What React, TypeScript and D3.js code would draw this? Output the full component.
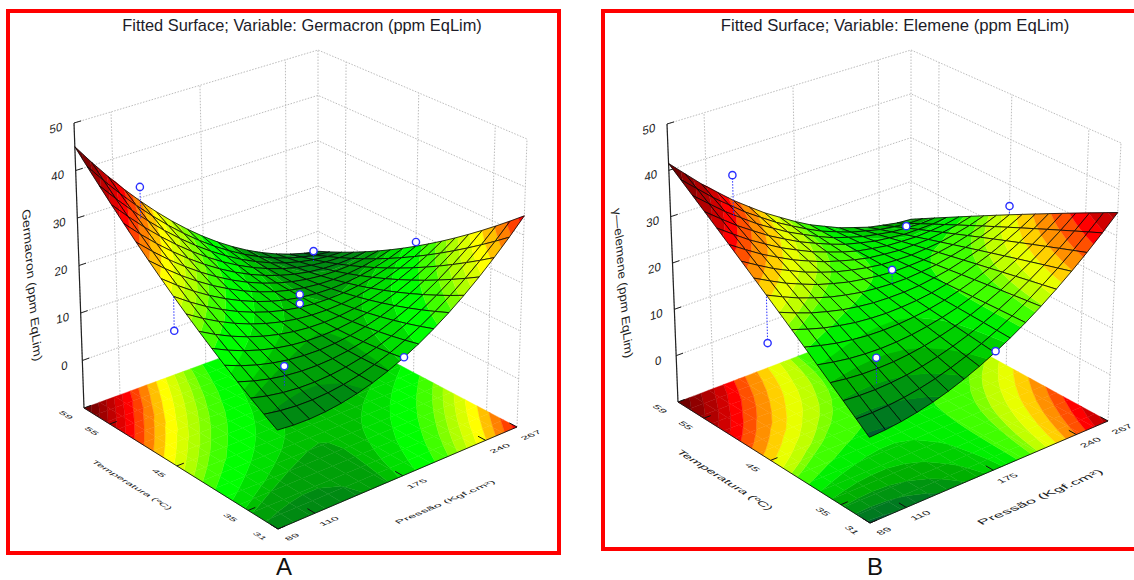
import * as d3 from 'd3';
import React, { useEffect, useRef } from 'react';

// values
const pressureTicks = [89, 110, 175, 240, 267];
const pressureStops = [0, 0.145, 0.503, 0.86, 1]; // where the ticks fall along the axis
const temperatureTicks = [59, 55, 45, 35, 31];
const zTicks = [0, 10, 20, 30, 40, 50];

// rows run from T=31 to T=59, columns from P=89 to P=267
const germacronGrid = [
  [9.40, 9.11, 9.06, 9.26, 9.70, 10.39, 11.31, 12.48, 13.90, 15.56, 17.47, 19.61, 22.00, 24.64, 27.52, 30.63, 34.00],
  [10.99, 10.45, 10.15, 10.10, 10.29, 10.73, 11.40, 12.32, 13.49, 14.90, 16.56, 18.45, 20.59, 22.98, 25.61, 28.47, 31.59],
  [12.67, 11.88, 11.33, 11.03, 10.97, 11.16, 11.58, 12.25, 13.17, 14.33, 15.74, 17.38, 19.27, 21.41, 23.79, 26.40, 29.27],
  [14.43, 13.39, 12.59, 12.04, 11.73, 11.67, 11.84, 12.26, 12.93, 13.84, 15.00, 16.39, 18.03, 19.92, 22.05, 24.41, 27.03],
  [16.27, 14.98, 13.93, 13.13, 12.57, 12.26, 12.18, 12.35, 12.77, 13.43, 14.34, 15.48, 16.87, 18.51, 20.39, 22.50, 24.87],
  [18.20, 16.66, 15.36, 14.31, 13.50, 12.94, 12.61, 12.53, 12.70, 13.11, 13.77, 14.66, 15.80, 17.19, 18.82, 20.68, 22.80],
  [20.21, 18.42, 16.87, 15.57, 14.51, 13.70, 13.12, 12.79, 12.71, 12.87, 13.28, 13.92, 14.81, 15.95, 17.33, 18.94, 20.81],
  [22.31, 20.27, 18.47, 16.92, 15.61, 14.55, 13.72, 13.14, 12.81, 12.72, 12.88, 13.27, 13.91, 14.80, 15.93, 17.29, 18.91],
  [24.49, 22.20, 20.15, 18.35, 16.79, 15.48, 14.40, 13.57, 12.99, 12.65, 12.56, 12.70, 13.09, 13.73, 14.61, 15.72, 17.09],
  [26.76, 24.22, 21.92, 19.87, 18.06, 16.50, 15.17, 14.09, 13.26, 12.67, 12.33, 12.22, 12.36, 12.75, 13.38, 14.24, 15.36],
  [29.11, 26.32, 23.77, 21.47, 19.41, 17.60, 16.02, 14.69, 13.61, 12.77, 12.18, 11.82, 11.71, 11.85, 12.23, 12.84, 13.71],
  [31.55, 28.51, 25.71, 23.16, 20.85, 18.79, 16.96, 15.38, 14.05, 12.96, 12.12, 11.51, 11.15, 11.04, 11.17, 11.53, 12.15],
  [34.07, 30.78, 27.73, 24.93, 22.37, 20.06, 17.98, 16.15, 14.57, 13.23, 12.14, 11.28, 10.67, 10.31, 10.19, 10.30, 10.67],
  [36.68, 33.14, 29.84, 26.79, 23.98, 21.42, 19.09, 17.01, 15.18, 13.59, 12.25, 11.14, 10.28, 9.67, 9.30, 9.16, 9.28],
  [39.37, 35.58, 32.03, 28.73, 25.67, 22.86, 20.28, 17.95, 15.87, 14.03, 12.44, 11.08, 9.97, 9.11, 8.49, 8.10, 7.97],
  [42.14, 38.10, 34.30, 30.75, 27.44, 24.38, 21.55, 18.97, 16.64, 14.55, 12.71, 11.10, 9.74, 8.63, 7.76, 7.12, 6.74],
  [45.00, 40.71, 36.66, 32.86, 29.30, 25.99, 22.91, 20.08, 17.50, 15.16, 13.07, 11.21, 9.60, 8.24, 7.12, 6.23, 5.60],
];

const elemeneGrid = [
  [7.50, 7.70, 8.10, 8.70, 9.50, 10.50, 11.72, 13.13, 14.75, 16.57, 18.60, 20.82, 23.26, 25.88, 28.72, 31.76, 35.00],
  [9.66, 9.64, 9.81, 10.19, 10.76, 11.54, 12.53, 13.72, 15.11, 16.70, 18.51, 20.50, 22.72, 25.11, 27.73, 30.54, 33.56],
  [11.82, 11.58, 11.52, 11.68, 12.02, 12.58, 13.34, 14.31, 15.47, 16.83, 18.42, 20.18, 22.18, 24.34, 26.74, 29.32, 32.12],
  [13.97, 13.51, 13.22, 13.16, 13.27, 13.61, 14.14, 14.89, 15.82, 16.95, 18.32, 19.85, 21.63, 23.56, 25.74, 28.09, 30.67],
  [16.12, 15.44, 14.92, 14.64, 14.52, 14.64, 14.94, 15.47, 16.17, 17.07, 18.22, 19.52, 21.08, 22.78, 24.74, 26.86, 29.22],
  [18.26, 17.36, 16.61, 16.11, 15.76, 15.66, 15.73, 16.04, 16.51, 17.18, 18.11, 19.18, 20.52, 21.99, 23.73, 25.62, 27.76],
  [20.40, 19.28, 18.30, 17.58, 17.00, 16.68, 16.52, 16.61, 16.85, 17.29, 18.00, 18.84, 19.96, 21.20, 22.72, 24.38, 26.30],
  [22.53, 21.19, 19.98, 19.04, 18.23, 17.69, 17.30, 17.17, 17.18, 17.39, 17.88, 18.49, 19.39, 20.40, 21.70, 23.13, 24.83],
  [24.66, 23.10, 21.66, 20.50, 19.46, 18.70, 18.08, 17.73, 17.51, 17.49, 17.76, 18.14, 18.82, 19.60, 20.68, 21.88, 23.36],
  [26.78, 25.00, 23.33, 21.95, 20.68, 19.70, 18.85, 18.28, 17.83, 17.58, 17.63, 17.78, 18.24, 18.79, 19.65, 20.62, 21.88],
  [28.89, 26.89, 24.99, 23.39, 21.89, 20.69, 19.61, 18.82, 18.14, 17.66, 17.49, 17.41, 17.65, 17.97, 18.61, 19.35, 20.39],
  [31.00, 28.78, 26.65, 24.83, 23.10, 21.68, 20.37, 19.36, 18.45, 17.74, 17.35, 17.04, 17.06, 17.15, 17.57, 18.08, 18.90],
  [33.10, 30.66, 28.30, 26.26, 24.30, 22.66, 21.12, 19.89, 18.75, 17.81, 17.20, 16.66, 16.46, 16.32, 16.52, 16.80, 17.40],
  [35.20, 32.54, 29.95, 27.69, 25.50, 23.64, 21.87, 20.42, 19.05, 17.88, 17.05, 16.28, 15.86, 15.49, 15.47, 15.52, 15.90],
  [37.30, 34.42, 31.60, 29.12, 26.70, 24.62, 22.62, 20.95, 19.35, 17.95, 16.90, 15.90, 15.26, 14.66, 14.42, 14.24, 14.40],
  [39.39, 36.29, 33.24, 30.54, 27.89, 25.59, 23.36, 21.47, 19.64, 18.01, 16.74, 15.51, 14.65, 13.82, 13.36, 12.95, 12.89],
  [41.48, 38.16, 34.88, 31.96, 29.08, 26.56, 24.10, 21.99, 19.93, 18.07, 16.58, 15.12, 14.04, 12.98, 12.30, 11.66, 11.38],
];

// observed runs
const germacronP = [110, 89, 240, 175, 175, 110, 175, 267];
const germacronT = [55, 45, 55, 45, 45, 35, 31, 45];
const germacronZ = [37, 17.5, 11, 15.7, 13.8, 15.8, 14, 18];

const elemeneP = [110, 89, 240, 175, 110, 175, 267];
const elemeneT = [55, 45, 55, 45, 35, 31, 45];
const elemeneZ = [39.5, 14.6, 15.5, 20.5, 17.3, 15, 25.3];

// contour levels, low to high
const germacronLevels = [-100, 8, 10.8, 12.6, 13.6, 15.4, 18, 20, 21.5, 23.2, 25, 27, 29, 31, 33, 35, 37, 39, 41, 43, 100];
const germacronColors = ['#006e18', '#008a12', '#00a008', '#00c000', '#00df00', '#00ff00', '#40ff00', '#80ff00', '#b0ff00', '#d8ff00', '#ffff00', '#ffc000', '#ff8000', '#ff4000', '#ff0000', '#e00000', '#c00000', '#a00000', '#800000', '#700000'];

const elemeneLevels = [-100, 8, 10, 12, 14, 16, 18, 20, 21, 22.5, 24.2, 26, 28, 30, 32, 34, 36.5, 39, 100];
const elemeneColors = ['#006030', '#007a20', '#009510', '#00b000', '#00d000', '#00f000', '#40ff00', '#80ff00', '#c0ff00', '#e8ff00', '#ffd000', '#ff9000', '#ff5000', '#ff0000', '#d00000', '#b00000', '#900000', '#700000'];

const Z_FLOOR = -10;
const FONT = '"Liberation Sans", Arial, sans-serif';

const panels = [
  {
    title: 'Fitted Surface; Variable: Germacron (ppm EqLim)',
    zLabel: 'Germacron (ppm EqLim)',
    letter: 'A',
    grid: germacronGrid,
    pointsP: germacronP,
    pointsT: germacronT,
    pointsZ: germacronZ,
    levels: germacronLevels,
    colors: germacronColors,
    frame: [8, 11, 551, 542],
    titleAt: [302, 31],
    titleSize: 16.4,
    letterAt: [284, 575],
    // front, right, back, left corners of the floor and of the z=50 plane
    floor: [[278, 529], [517, 427], [318, 322], [84, 408]],
    top: [[276, 223], [527, 139], [318, 50], [74, 123]],
    tempLabel: { at: [132, 485], s: 1.0, h: 0.6 },
    pressLabel: { at: [445, 502], s: 1.1, h: 0.62 },
    zLabelAt: [32, 285],
    zLabelScale: 1.15,
    tickScale: { s: 1, h: 0.6 },
  },
  {
    title: 'Fitted Surface; Variable: Elemene (ppm EqLim)',
    zLabel: 'γ—elemene (ppm EqLim)',
    letter: 'B',
    grid: elemeneGrid,
    pointsP: elemeneP,
    pointsT: elemeneT,
    pointsZ: elemeneZ,
    levels: elemeneLevels,
    colors: elemeneColors,
    frame: [603, 11, 560, 538],
    titleAt: [895, 31],
    titleSize: 16.7,
    letterAt: [875, 575],
    floor: [[870, 523], [1108, 421], [911, 313], [678, 402]],
    top: [[868, 229], [1121, 143], [911, 50], [667, 124]],
    tempLabel: { at: [725, 480], s: 1.2, h: 0.8 },
    pressLabel: { at: [1040, 497], s: 1.38, h: 0.85 },
    zLabelAt: [623, 283],
    zLabelScale: 1.1,
    tickScale: { s: 1, h: 0.7 },
  },
];

// unit square to quad, (0,0) front, (1,0) right, (1,1) back, (0,1) left
function homography(q: number[][]) {
  const [[x0, y0], [x1, y1], [x2, y2], [x3, y3]] = q;
  const dx1 = x1 - x2, dx2 = x3 - x2, sx = x0 - x1 + x2 - x3;
  const dy1 = y1 - y2, dy2 = y3 - y2, sy = y0 - y1 + y2 - y3;
  const den = dx1 * dy2 - dx2 * dy1;
  const g = (sx * dy2 - dx2 * sy) / den;
  const h = (dx1 * sy - sx * dy1) / den;
  const a = x1 - x0 + g * x1, b = x3 - x0 + h * x3;
  const d = y1 - y0 + g * y1, e = y3 - y0 + h * y3;
  return (u: number, v: number) => {
    const w = g * u + h * v + 1;
    return [(a * u + b * v + x0) / w, (d * u + e * v + y0) / w];
  };
}

// keep the part of a cell polygon on one side of a level
function clipLevel(pts: any[], level: number, keepAbove: boolean) {
  const inside = (p: any) => (keepAbove ? p.z >= level : p.z <= level);
  const out: any[] = [];
  pts.forEach((a, i) => {
    const b = pts[(i + 1) % pts.length];
    if (inside(a)) out.push(a);
    if (inside(a) !== inside(b)) {
      const t = (level - a.z) / (b.z - a.z);
      out.push({ P: a.P + (b.P - a.P) * t, T: a.T + (b.T - a.T) * t, z: level });
    }
  });
  return out;
}

function drawPanel(svg: any, panel: any) {
  const n = panel.grid.length - 1;
  const pU = d3.scaleLinear().domain(pressureTicks).range(pressureStops);
  const tV = d3.scaleLinear().domain([31, 59]).range([0, 1]);
  const zW = d3.scaleLinear().domain([Z_FLOOR, 50]).range([0, 1]);
  const cellU = d3.scaleLinear().domain([0, n]).range([0, 1]);
  const tAt = d3.scaleLinear().domain([0, n]).range([31, 59]);
  const pAt = (i: number) => pU.invert(cellU(i));
  const floorH = homography(panel.floor);
  const topH = homography(panel.top);

  const project = (P: number, T: number, z: number) => {
    const [x0, y0] = floorH(pU(P), tV(T));
    const [x1, y1] = topH(pU(P), tV(T));
    const w = zW(z);
    return [x0 + (x1 - x0) * w, y0 + (y1 - y0) * w];
  };
  const line = d3.line().curve(d3.curveLinearClosed);
  const open = d3.line();

  const surfaceAt = (P: number, T: number) => {
    const fi = cellU.invert(pU(P)), fj = tAt.invert(T);
    const i = Math.min(Math.floor(fi), n - 1), j = Math.min(Math.floor(fj), n - 1);
    const a = fi - i, b = fj - j;
    const g = panel.grid;
    return (g[j][i] * (1 - a) + g[j][i + 1] * a) * (1 - b) + (g[j + 1][i] * (1 - a) + g[j + 1][i + 1] * a) * b;
  };

  const bands = panel.colors.map((color: string, k: number) => ({ color, lo: panel.levels[k], hi: panel.levels[k + 1] }));
  const slices = (cell: any[]) =>
    bands
      .map((b: any) => ({ color: b.color, pts: clipLevel(clipLevel(cell, b.lo, true), b.hi, false) }))
      .filter((s: any) => s.pts.length > 2);
  const cellAt = (i: number, j: number) =>
    [[i, j], [i + 1, j], [i + 1, j + 1], [i, j + 1]].map(([a, b]) => ({ P: pAt(a), T: tAt(b), z: panel.grid[b][a] }));

  const g = svg.append('g');

  // frame
  const [fx, fy, fw, fh] = panel.frame;
  g.append('rect').attr('x', fx).attr('y', fy).attr('width', fw).attr('height', fh)
    .attr('fill', '#fff').attr('stroke', '#ff0000').attr('stroke-width', 4);

  // back walls
  const wall = g.append('g').attr('fill', 'none').attr('stroke', '#bcbcbc').attr('stroke-dasharray', '1.5 1.5');
  zTicks.forEach((z) => {
    wall.append('path').attr('d', open([project(89, 59, z), project(267, 59, z), project(267, 31, z)] as any));
  });
  pressureTicks.forEach((P) => {
    wall.append('path').attr('d', open([project(P, 59, Z_FLOOR), project(P, 59, 50)] as any));
  });
  temperatureTicks.filter((T) => T !== 59).forEach((T) => {
    wall.append('path').attr('d', open([project(267, T, Z_FLOOR), project(267, T, 50)] as any));
  });

  // contour map on the floor
  const floorG = g.append('g');
  for (let j = 0; j < n; j++) {
    for (let i = 0; i < n; i++) {
      slices(cellAt(i, j)).forEach((s: any) => {
        floorG.append('path')
          .attr('d', line(s.pts.map((p: any) => project(p.P, p.T, Z_FLOOR))))
          .attr('fill', s.color).attr('stroke', s.color).attr('stroke-width', 0.4);
      });
    }
  }
  g.append('path').attr('fill', 'none').attr('stroke', '#111').attr('stroke-width', 0.9)
    .attr('d', open([project(89, 59, Z_FLOOR), project(89, 31, Z_FLOOR), project(267, 31, Z_FLOOR)] as any));
  temperatureTicks.forEach((T) => {
    g.append('path').attr('stroke', '#111')
      .attr('d', open([project(89, T, Z_FLOOR), project(93, T, Z_FLOOR)] as any));
  });
  pressureTicks.forEach((P) => {
    g.append('path').attr('stroke', '#111')
      .attr('d', open([project(P, 31, Z_FLOOR), project(P, 32, Z_FLOOR)] as any));
  });

  // z axis
  g.append('path').attr('stroke', '#222').attr('stroke-width', 1.2)
    .attr('d', open([project(89, 59, Z_FLOOR), project(89, 59, 50)] as any));
  zTicks.forEach((z) => {
    g.append('path').attr('stroke', '#222')
      .attr('d', open([project(89, 59, z), project(93, 59, z)] as any));
  });

  // surface, back cells first
  const surf = g.append('g');
  for (let j = n - 1; j >= 0; j--) {
    for (let i = n - 1; i >= 0; i--) {
      const cell = cellAt(i, j);
      slices(cell).forEach((s: any) => {
        surf.append('path')
          .attr('d', line(s.pts.map((p: any) => project(p.P, p.T, p.z))))
          .attr('fill', s.color).attr('stroke', s.color).attr('stroke-width', 0.3);
      });
      surf.append('path')
        .attr('d', line(cell.map((p: any) => project(p.P, p.T, p.z))))
        .attr('fill', 'none').attr('stroke', '#050505').attr('stroke-width', 0.8);
    }
  }

  // observed points with their stems
  panel.pointsP.forEach((P: number, k: number) => {
    const T = panel.pointsT[k], z = panel.pointsZ[k];
    g.append('path').attr('fill', 'none').attr('stroke', '#2a30ff').attr('stroke-dasharray', '1.5 1.5')
      .attr('d', open([project(P, T, z), project(P, T, surfaceAt(P, T))] as any));
  });
  panel.pointsP.forEach((P: number, k: number) => {
    const [cx, cy] = project(P, panel.pointsT[k], panel.pointsZ[k]);
    g.append('circle').attr('cx', cx).attr('cy', cy).attr('r', 3.6)
      .attr('fill', '#fff').attr('stroke', '#2a30ff').attr('stroke-width', 1.4);
  });

  // text laid on the floor and on the wall
  const onPlane = (txt: string, x: number, y: number, base: number[], down: number[], s: number, h: number, size = 12) => {
    g.append('text')
      .attr('transform', `matrix(${base[0] * s},${base[1] * s},${down[0] * h},${down[1] * h},${x},${y})`)
      .attr('text-anchor', 'middle').attr('dy', '0.35em')
      .attr('font-family', FONT).attr('font-size', size).attr('fill', '#222')
      .text(txt);
  };
  const unit = (a: number[], b: number[]) => {
    const dx = b[0] - a[0], dy = b[1] - a[1], l = Math.hypot(dx, dy);
    return [dx / l, dy / l];
  };
  const tempDir = unit(project(89, 59, Z_FLOOR), project(89, 31, Z_FLOOR));
  const pressDir = unit(project(89, 31, Z_FLOOR), project(267, 31, Z_FLOOR));
  const wallDir = unit(project(89, 59, 50), project(267, 59, 50));
  const tempDown = [-pressDir[0], -pressDir[1]];
  const pressDown = [tempDir[0], tempDir[1]];

  temperatureTicks.forEach((T) => {
    const [x, y] = project(89, T, Z_FLOOR);
    onPlane(String(T), x - 18, y + 7, tempDir, tempDown, panel.tickScale.s, panel.tickScale.h);
  });
  pressureTicks.forEach((P) => {
    const [x, y] = project(P, 31, Z_FLOOR);
    onPlane(String(P), x + 14, y + 8, pressDir, pressDown, panel.tickScale.s, panel.tickScale.h);
  });
  zTicks.forEach((z) => {
    const [x, y] = project(89, 59, z);
    onPlane(String(z), x - 18, y + 5, wallDir, [0, 1], 1, 1);
  });
  const tl = panel.tempLabel, pl = panel.pressLabel;
  onPlane('Temperatura (ºC)', tl.at[0], tl.at[1], tempDir, tempDown, tl.s, tl.h);
  onPlane('Pressão (Kgf.cm²)', pl.at[0], pl.at[1], pressDir, pressDown, pl.s, pl.h);
  onPlane(panel.zLabel, panel.zLabelAt[0], panel.zLabelAt[1], [0.08, 1], [-wallDir[0], -wallDir[1]], panel.zLabelScale, 1);

  g.append('text').attr('x', panel.titleAt[0]).attr('y', panel.titleAt[1]).attr('text-anchor', 'middle')
    .attr('font-family', FONT).attr('font-size', panel.titleSize).attr('fill', '#1c1c28').text(panel.title);
  g.append('text').attr('x', panel.letterAt[0]).attr('y', panel.letterAt[1]).attr('text-anchor', 'middle')
    .attr('font-family', FONT).attr('font-size', 24).attr('fill', '#111').text(panel.letter);
}

export default function App() {
  const svgRef = useRef<SVGSVGElement>(null);

  useEffect(() => {
    const svg = d3.select(svgRef.current);
    svg.selectAll('*').remove();
    svg.append('rect').attr('width', 1134).attr('height', 580).attr('fill', '#fff');
    panels.forEach((p) => drawPanel(svg, p));
  }, []);

  return <svg ref={svgRef} width={1134} height={580} style={{ position: 'absolute', left: 0, top: 0, display: 'block' }} />;
}
